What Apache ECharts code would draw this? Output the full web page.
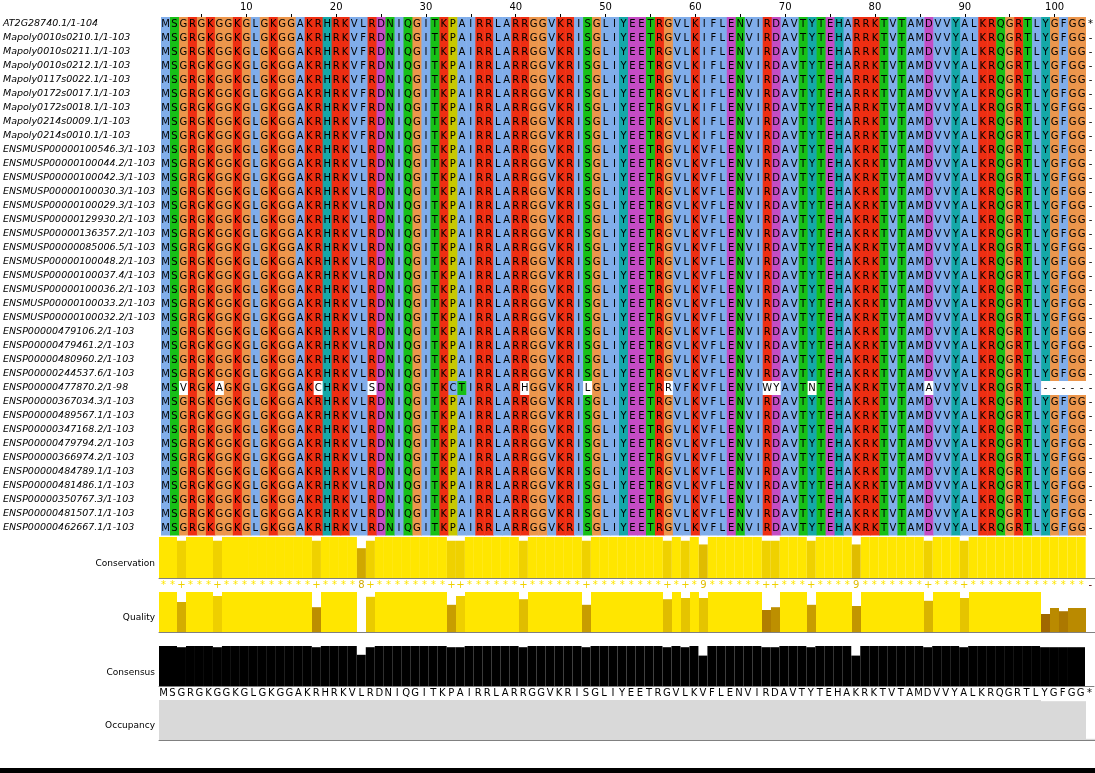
<!DOCTYPE html>
<html>
<head>
<meta charset="utf-8">
<script src="https://cdn.jsdelivr.net/npm/echarts@6/dist/echarts.min.js"></script>
<style>
html, body { margin: 0; padding: 0; background: #fff; }
#chart { width: 1095px; height: 773px; }
</style>
</head>
<body>
<div id="chart"></div>
<script>
// sequence ids, top to bottom
var seqNames = [
	'AT2G28740.1/1-104',
	'Mapoly0010s0210.1/1-103', 'Mapoly0010s0211.1/1-103', 'Mapoly0010s0212.1/1-103', 'Mapoly0117s0022.1/1-103',
	'Mapoly0172s0017.1/1-103', 'Mapoly0172s0018.1/1-103', 'Mapoly0214s0009.1/1-103', 'Mapoly0214s0010.1/1-103',
	'ENSMUSP00000100546.3/1-103', 'ENSMUSP00000100044.2/1-103', 'ENSMUSP00000100042.3/1-103', 'ENSMUSP00000100030.3/1-103',
	'ENSMUSP00000100029.3/1-103', 'ENSMUSP00000129930.2/1-103', 'ENSMUSP00000136357.2/1-103', 'ENSMUSP00000085006.5/1-103',
	'ENSMUSP00000100048.2/1-103', 'ENSMUSP00000100037.4/1-103', 'ENSMUSP00000100036.2/1-103', 'ENSMUSP00000100033.2/1-103',
	'ENSMUSP00000100032.2/1-103',
	'ENSP00000479106.2/1-103', 'ENSP00000479461.2/1-103', 'ENSP00000480960.2/1-103', 'ENSP00000244537.6/1-103',
	'ENSP00000477870.2/1-98', 'ENSP00000367034.3/1-103', 'ENSP00000489567.1/1-103', 'ENSP00000347168.2/1-103',
	'ENSP00000479794.2/1-103', 'ENSP00000366974.2/1-103', 'ENSP00000484789.1/1-103', 'ENSP00000481486.1/1-103',
	'ENSP00000350767.3/1-103', 'ENSP00000481507.1/1-103', 'ENSP00000462667.1/1-103'
];

// aligned sequences (104 columns)
var seqAT = 'MSGRGKGGKG' + 'LGKGGAKRHR' + 'KVLRDNIQGI' + 'TKPAIRRLAR' + 'RGGVKRISGL' + 'IYEETRGVLK' + 'IFLENVIRDA' + 'VTYTEHARRK' + 'TVTAMDVVYA' + 'LKRQGRTLYG' + 'FGG*';
var seqMp = 'MSGRGKGGKG' + 'LGKGGAKRHR' + 'KVFRDNIQGI' + 'TKPAIRRLAR' + 'RGGVKRISGL' + 'IYEETRGVLK' + 'IFLENVIRDA' + 'VTYTEHARRK' + 'TVTAMDVVYA' + 'LKRQGRTLYG' + 'FGG-';
var seqEns = 'MSGRGKGGKG' + 'LGKGGAKRHR' + 'KVLRDNIQGI' + 'TKPAIRRLAR' + 'RGGVKRISGL' + 'IYEETRGVLK' + 'VFLENVIRDA' + 'VTYTEHAKRK' + 'TVTAMDVVYA' + 'LKRQGRTLYG' + 'FGG-';
var seq477870 = 'MSVRGKAGKG' + 'LGKGGAKCHR' + 'KVLSDNIQGI' + 'TKCTIRRLAR' + 'HGGVKRILGL' + 'IYEETRRVFK' + 'VFLENVIWYA' + 'VTNTEHAKRK' + 'TVTAMAVVYV' + 'LKRQGRTL--' + '----';

var sequences = [seqAT,
	seqMp, seqMp, seqMp, seqMp, seqMp, seqMp, seqMp, seqMp,
	seqEns, seqEns, seqEns, seqEns, seqEns, seqEns, seqEns, seqEns, seqEns, seqEns, seqEns, seqEns, seqEns,
	seqEns, seqEns, seqEns, seqEns, seq477870,
	seqEns, seqEns, seqEns, seqEns, seqEns, seqEns, seqEns, seqEns, seqEns, seqEns];

// columns (1-based) left without colour in ENSP00000477870.2
var unshadedRow = 26;
var unshadedCols = [3, 7, 18, 24, 41, 48, 57, 68, 69, 73, 86];

// annotation rows
var conservation = [
	11, 11, 10, 11, 11, 11, 10, 11, 11, 11,
	11, 11, 11, 11, 11, 11, 11, 10, 11, 11,
	11, 11, 8, 10, 11, 11, 11, 11, 11, 11,
	11, 11, 10, 10, 11, 11, 11, 11, 11, 11,
	10, 11, 11, 11, 11, 11, 11, 10, 11, 11,
	11, 11, 11, 11, 11, 11, 10, 11, 10, 11,
	9, 11, 11, 11, 11, 11, 11, 10, 10, 11,
	11, 11, 10, 11, 11, 11, 11, 9, 11, 11,
	11, 11, 11, 11, 11, 10, 11, 11, 11, 10,
	11, 11, 11, 11, 11, 11, 11, 11, 11, 11,
	11, 11, 11, 0];
var quality = [
	100, 100, 75, 100, 100, 100, 90, 100, 100, 100,
	100, 100, 100, 100, 100, 100, 100, 62, 100, 100,
	100, 100, 0, 88, 100, 100, 100, 100, 100, 100,
	100, 100, 68, 90, 100, 100, 100, 100, 100, 100,
	82, 100, 100, 100, 100, 100, 100, 68, 100, 100,
	100, 100, 100, 100, 100, 100, 82, 100, 85, 100,
	85, 100, 100, 100, 100, 100, 100, 55, 62, 100,
	100, 100, 68, 100, 100, 100, 100, 65, 100, 100,
	100, 100, 100, 100, 100, 78, 100, 100, 100, 85,
	100, 100, 100, 100, 100, 100, 100, 100, 45, 60,
	52, 60, 60, 0];
var consensus = [
	100, 100, 97, 100, 100, 100, 97, 100, 100, 100,
	100, 100, 100, 100, 100, 100, 100, 97, 100, 100,
	100, 100, 78, 97, 100, 100, 100, 100, 100, 100,
	100, 100, 97, 97, 100, 100, 100, 100, 100, 100,
	97, 100, 100, 100, 100, 100, 100, 97, 100, 100,
	100, 100, 100, 100, 100, 100, 97, 100, 97, 100,
	76, 100, 100, 100, 100, 100, 100, 97, 97, 100,
	100, 100, 97, 100, 100, 100, 100, 76, 100, 100,
	100, 100, 100, 100, 100, 97, 100, 100, 100, 97,
	100, 100, 100, 100, 100, 100, 100, 100, 97, 97,
	97, 97, 97, 0];
var occupancy = [
	100, 100, 100, 100, 100, 100, 100, 100, 100, 100,
	100, 100, 100, 100, 100, 100, 100, 100, 100, 100,
	100, 100, 100, 100, 100, 100, 100, 100, 100, 100,
	100, 100, 100, 100, 100, 100, 100, 100, 100, 100,
	100, 100, 100, 100, 100, 100, 100, 100, 100, 100,
	100, 100, 100, 100, 100, 100, 100, 100, 100, 100,
	100, 100, 100, 100, 100, 100, 100, 100, 100, 100,
	100, 100, 100, 100, 100, 100, 100, 100, 100, 100,
	100, 100, 100, 100, 100, 100, 100, 100, 100, 100,
	100, 100, 100, 100, 100, 100, 100, 100, 97, 97,
	97, 97, 97, 3];
var consensusSeq = 'MSGRGKGGKGLGKGGAKRHRKVLRDNIQGITKPAIRRLARRGGVKRISGLIYEETRGVLKVFLENVIRDAVTYTEHAKRKTVTAMDVVYALKRQGRTLYGFGG*';

var columns = [];
for (var i = 1; i <= 104; i++) columns.push(String(i));

// clustal colours
var clustal = {};
'AILMFWVC'.split('').forEach(function (r) { clustal[r] = '#80adea'; });
'KR'.split('').forEach(function (r) { clustal[r] = '#ee2e12'; });
'DE'.split('').forEach(function (r) { clustal[r] = '#c44cc4'; });
'NQST'.split('').forEach(function (r) { clustal[r] = '#17c017'; });
'HY'.split('').forEach(function (r) { clustal[r] = '#15a8a8'; });
clustal['G'] = '#ec964c';
clustal['P'] = '#c8c800';

// annotation shade, dark brown -> yellow
function shade(f) {
	var lo = [82, 1, 0], hi = [255, 230, 0];
	return 'rgb(' + Math.round(lo[0] + (hi[0] - lo[0]) * f) + ',' +
		Math.round(lo[1] + (hi[1] - lo[1]) * f) + ',' +
		Math.round(lo[2] + (hi[2] - lo[2]) * f) + ')';
}

function consSymbol(v) {
	if (v === 11) return '*';
	if (v === 10) return '+';
	if (v === 0) return '-';
	return String(v);
}

// cells for the alignment
var cells = [];
var cellData = [];
sequences.forEach(function (s, row) {
	for (var c = 0; c < s.length; c++) {
		var ch = s.charAt(c);
		var fill = clustal[ch] || '#ffffff';
		if (row === unshadedRow && unshadedCols.indexOf(c + 1) >= 0) fill = '#ffffff';
		cells.push({ ch: ch, fill: fill });
		cellData.push([c, row]);
	}
});

function renderCell(params, api) {
	var cell = cells[params.dataIndex];
	var p = api.coord([api.value(0), api.value(1)]);
	var s = api.size([1, 1]);
	return {
		type : 'group',
		children : [ {
			type : 'rect',
			shape : { x : p[0] - s[0] / 2, y : p[1] - s[1] / 2, width : s[0] + 0.5, height : s[1] + 0.5 },
			style : { fill : cell.fill }
		}, {
			type : 'text',
			style : {
				text : cell.ch, x : p[0], y : p[1] + 0.5,
				align : 'center', verticalAlign : 'middle',
				fill : '#000', font : '10px "DejaVu Sans"'
			}
		} ]
	};
}

var LEFT = 159, WIDTH = 936;
var annGrids = [
	{ top : 537, height : 41 },  // conservation
	{ top : 592, height : 40 },  // quality
	{ top : 646, height : 40 },  // consensus
	{ top : 700, height : 40 }   // occupancy
];

function annX(gi, label) {
	return {
		type : 'category', gridIndex : gi, data : columns, position : 'bottom',
		axisLine : { show : true, lineStyle : { color : '#808080', width : 1 } },
		axisTick : { show : false },
		axisLabel : label || { show : false }
	};
}
function annY(gi, max) {
	return { type : 'value', gridIndex : gi, min : 0, max : max, show : false };
}

var myChart = echarts.init(document.getElementById('chart'), null, { renderer : 'canvas' });

var option = {
	animation : false,
	backgroundColor : '#ffffff',
	grid : [ { left : LEFT, top : 17, width : WIDTH, height : 518 } ].concat(annGrids.map(function (g) {
		return { left : LEFT, top : g.top, width : WIDTH, height : g.height };
	})),
	xAxis : [ {
		type : 'category', gridIndex : 0, data : columns, position : 'top',
		axisLine : { show : false },
		axisTick : {
			show : true, alignWithLabel : true, length : 3,
			interval : function (i) { return (i + 1) % 5 === 0; },
			lineStyle : { color : '#000' }
		},
		axisLabel : {
			interval : function (i) { return (i + 1) % 10 === 0; },
			color : '#000', fontSize : 10, fontFamily : 'DejaVu Sans', margin : 5
		}
	},
	annX(1, {
		show : true, interval : 0, margin : 2, fontSize : 10, fontFamily : 'DejaVu Sans',
		formatter : function (v) { return consSymbol(conservation[+v - 1]); },
		color : function (v) { return shade(conservation[+v - 1] / 11); }
	}),
	annX(2),
	annX(3, {
		show : true, interval : 0, margin : 2, fontSize : 10, fontFamily : 'DejaVu Sans', color : '#000',
		formatter : function (v) { return consensusSeq.charAt(+v - 1); }
	}),
	annX(4) ],
	yAxis : [ {
		type : 'category', gridIndex : 0, data : seqNames, inverse : true,
		axisLine : { show : false }, axisTick : { show : false },
		axisLabel : {
			align : 'left', margin : 158, color : '#000', fontSize : 9.5,
			fontStyle : 'italic', fontFamily : 'DejaVu Sans'
		}
	}, annY(1, 11), annY(2, 100), annY(3, 100), annY(4, 100) ],
	series : [ {
		name : 'alignment', type : 'custom', xAxisIndex : 0, yAxisIndex : 0,
		renderItem : renderCell, data : cellData, silent : true,
		progressive : 0
	}, {
		name : 'Conservation', type : 'bar', xAxisIndex : 1, yAxisIndex : 1,
		barCategoryGap : '0%', data : conservation, silent : true,
		itemStyle : { color : function (p) { return shade(p.value / 11); } }
	}, {
		name : 'Quality', type : 'bar', xAxisIndex : 2, yAxisIndex : 2,
		barCategoryGap : '0%', data : quality, silent : true,
		itemStyle : { color : function (p) { return shade(p.value / 100); } }
	}, {
		name : 'Consensus', type : 'bar', xAxisIndex : 3, yAxisIndex : 3,
		barCategoryGap : '0%', data : consensus, silent : true,
		itemStyle : { color : '#000000' }
	}, {
		name : 'Occupancy', type : 'bar', xAxisIndex : 4, yAxisIndex : 4,
		barCategoryGap : '0%', data : occupancy, silent : true,
		itemStyle : { color : '#d9d9d9' }
	} ],
	graphic : [
		{ type : 'text', right : 1095 - 155, top : 559, style : { text : 'Conservation', font : '9px "DejaVu Sans"', fill : '#000' } },
		{ type : 'text', right : 1095 - 155, top : 613, style : { text : 'Quality', font : '9px "DejaVu Sans"', fill : '#000' } },
		{ type : 'text', right : 1095 - 155, top : 668, style : { text : 'Consensus', font : '9px "DejaVu Sans"', fill : '#000' } },
		{ type : 'text', right : 1095 - 155, top : 721, style : { text : 'Occupancy', font : '9px "DejaVu Sans"', fill : '#000' } },
		{ type : 'rect', left : 0, top : 768, shape : { width : 1095, height : 5 }, style : { fill : '#000' } }
	]
};

myChart.setOption(option);
</script>
</body>
</html>
